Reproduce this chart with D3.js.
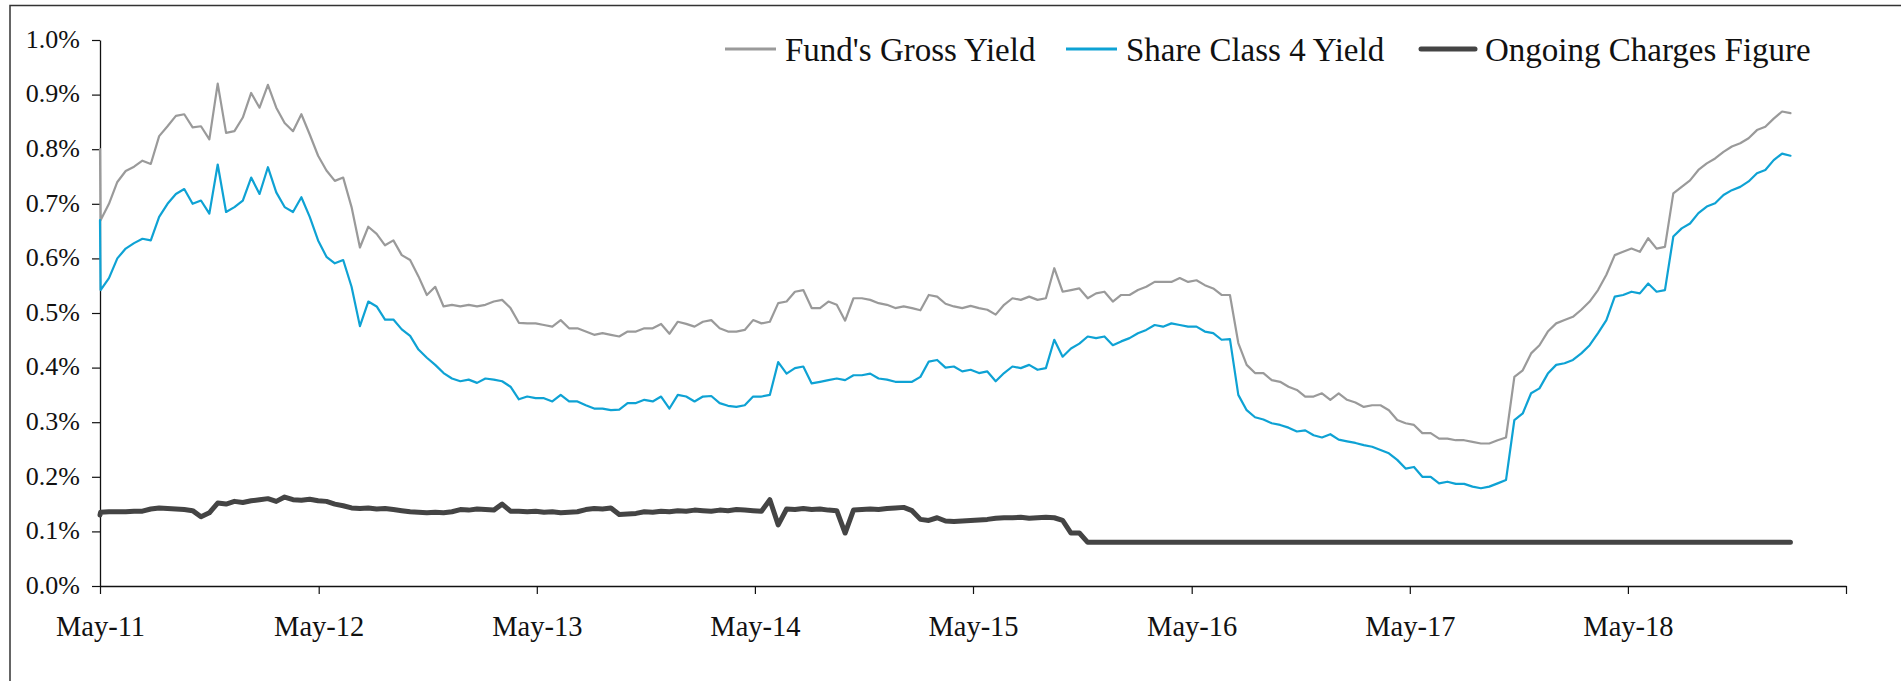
<!DOCTYPE html>
<html>
<head>
<meta charset="utf-8">
<script src="https://cdn.jsdelivr.net/npm/d3@7"></script>
<style>
body{margin:0;background:#fff}
svg text{font-family:"Liberation Serif","Times New Roman",serif;fill:#111}
</style>
</head>
<body>
<div id="chart"></div>
<script>
const first_date = "2011-05-01"
const series_start = "2011-05-02"
const step_days = 14

const gross_yield = [
  0.80,
  0.67,0.70,0.74,0.76,0.768,0.779,0.773,0.824,0.842,0.861,
  0.864,0.84,0.842,0.818,0.92,0.83,0.833,0.858,0.903,0.876,
  0.918,0.876,0.848,0.833,0.864,0.827,0.788,0.761,0.742,0.748,
  0.694,0.62,0.658,0.645,0.624,0.633,0.606,0.597,0.567,0.533,
  0.548,0.512,0.515,0.512,0.515,0.512,0.515,0.521,0.524,0.509,
  0.482,0.481,0.481,0.478,0.475,0.487,0.472,0.472,0.466,0.460,
  0.463,0.460,0.457,0.466,0.466,0.472,0.472,0.480,0.462,0.484,
  0.480,0.475,0.484,0.487,0.472,0.466,0.466,0.469,0.487,0.481,
  0.484,0.518,0.521,0.539,0.542,0.509,0.509,0.521,0.515,0.486,
  0.527,0.527,0.524,0.518,0.515,0.509,0.512,0.509,0.505,0.533,
  0.530,0.517,0.512,0.509,0.513,0.509,0.506,0.497,0.515,0.527,
  0.524,0.530,0.524,0.527,0.582,0.539,0.542,0.545,0.527,0.536,
  0.539,0.521,0.533,0.533,0.542,0.548,0.557,0.557,0.557,0.564,
  0.557,0.560,0.551,0.545,0.533,0.533,0.445,0.405,0.39,0.39,
  0.377,0.374,0.365,0.359,0.347,0.347,0.353,0.341,0.353,0.341,
  0.336,0.328,0.331,0.331,0.322,0.304,0.298,0.295,0.28,0.28,
  0.27,0.27,0.267,0.267,0.264,0.261,0.261,0.267,0.272,0.383,
  0.395,0.426,0.441,0.466,0.481,0.487,0.493,0.506,0.521,0.542,
  0.570,0.606,0.612,0.618,0.612,0.637,0.618,0.621,0.719,0.731,
  0.743,0.762,0.774,0.783,0.795,0.805,0.811,0.82,0.835,0.841,
  0.856,0.869,0.866
]

const class4_yield = [
  0.67,
  0.542,0.564,0.60,0.618,0.628,0.636,0.633,0.676,0.70,0.718,
  0.727,0.70,0.706,0.682,0.772,0.685,0.694,0.706,0.748,0.718,
  0.767,0.721,0.694,0.685,0.712,0.676,0.633,0.603,0.591,0.597,
  0.548,0.476,0.521,0.512,0.488,0.488,0.47,0.458,0.433,0.418,
  0.405,0.39,0.38,0.375,0.378,0.372,0.38,0.378,0.375,0.365,
  0.342,0.347,0.344,0.344,0.338,0.350,0.338,0.338,0.331,0.325,
  0.325,0.322,0.323,0.335,0.335,0.341,0.338,0.347,0.325,0.350,
  0.347,0.338,0.347,0.348,0.335,0.330,0.328,0.331,0.347,0.347,
  0.350,0.41,0.389,0.399,0.402,0.371,0.374,0.377,0.380,0.377,
  0.386,0.386,0.389,0.380,0.378,0.374,0.374,0.374,0.383,0.411,
  0.414,0.40,0.402,0.393,0.396,0.39,0.393,0.375,0.39,0.402,
  0.399,0.405,0.396,0.399,0.451,0.42,0.435,0.444,0.457,0.454,
  0.457,0.441,0.448,0.454,0.463,0.469,0.478,0.475,0.481,0.478,
  0.475,0.475,0.466,0.463,0.451,0.452,0.35,0.322,0.309,0.305,
  0.298,0.295,0.29,0.283,0.285,0.276,0.272,0.278,0.268,0.265,
  0.262,0.258,0.255,0.249,0.243,0.231,0.215,0.218,0.2,0.2,
  0.188,0.191,0.187,0.187,0.182,0.179,0.182,0.188,0.194,0.304,
  0.316,0.353,0.362,0.389,0.405,0.408,0.414,0.426,0.441,0.463,
  0.487,0.530,0.533,0.539,0.536,0.554,0.539,0.542,0.64,0.655,
  0.664,0.683,0.695,0.701,0.716,0.725,0.731,0.741,0.756,0.762,
  0.780,0.792,0.788
]

const ongoing_charges = [
  0.13,
  0.135,0.136,0.136,0.136,0.137,0.137,0.141,0.143,0.142,0.141,
  0.140,0.138,0.127,0.134,0.152,0.150,0.155,0.153,0.156,0.158,
  0.16,0.155,0.163,0.158,0.157,0.159,0.156,0.155,0.15,0.147,
  0.143,0.142,0.143,0.141,0.142,0.14,0.138,0.136,0.135,0.134,
  0.135,0.134,0.136,0.14,0.139,0.141,0.14,0.139,0.15,0.137,
  0.137,0.136,0.137,0.135,0.136,0.134,0.135,0.136,0.14,0.142,
  0.141,0.143,0.131,0.132,0.133,0.136,0.135,0.137,0.136,0.138,
  0.137,0.139,0.138,0.137,0.139,0.138,0.14,0.139,0.138,0.137,
  0.158,0.112,0.141,0.14,0.142,0.14,0.141,0.139,0.138,0.097,
  0.139,0.14,0.141,0.14,0.142,0.143,0.144,0.138,0.122,0.12,
  0.125,0.119,0.118,0.119,0.12,0.121,0.122,0.124,0.125,0.125,
  0.126,0.124,0.125,0.126,0.125,0.12,0.097,0.097,0.08,0.08,
  0.08,0.08,0.08,0.08,0.08,0.08,0.08,0.08,0.08,0.08,
  0.08,0.08,0.08,0.08,0.08,0.08,0.08,0.08,0.08,0.08,
  0.08,0.08,0.08,0.08,0.08,0.08,0.08,0.08,0.08,0.08,
  0.08,0.08,0.08,0.08,0.08,0.08,0.08,0.08,0.08,0.08,
  0.08,0.08,0.08,0.08,0.08,0.08,0.08,0.08,0.08,0.08,
  0.08,0.08,0.08,0.08,0.08,0.08,0.08,0.08,0.08,0.08,
  0.08,0.08,0.08,0.08,0.08,0.08,0.08,0.08,0.08,0.08,
  0.08,0.08,0.08,0.08,0.08,0.08,0.08,0.08,0.08,0.08,
  0.08,0.08,0.08
]

const y_ticks = [0,0.1,0.2,0.3,0.4,0.5,0.6,0.7,0.8,0.9,1.0]
const x_tick_years = [2011,2012,2013,2014,2015,2016,2017,2018,2019]
const legend_labels = ["Fund's Gross Yield","Share Class 4 Yield","Ongoing Charges Figure"]


class YieldChartD3{

    constructor(dom_selector,params){
        this.params = params
        this.svg = d3.select(dom_selector).append("svg")
            .attr("width",params.width)
            .attr("height",params.height)
        this.colormap = {
            gross:"#9a9a9a",
            share:"#0ea2d4",
            ocf:"#444444",
            axis:"#111111"
        }
        this.init_model()
        this.drawFrame()
        this.drawAxes()
        this.drawLines()
        this.drawLegend()
    }

    init_model(){
        const parse = d3.timeParse("%Y-%m-%d")
        const start = parse(series_start)
        this.dates = [parse(first_date)].concat(
            gross_yield.slice(1).map((_,i)=>d3.timeDay.offset(start,i*step_days)))
        this.series = [
            {name:legend_labels[0], values:gross_yield, color:this.colormap.gross, width:2.2},
            {name:legend_labels[1], values:class4_yield, color:this.colormap.share, width:2.2},
            {name:legend_labels[2], values:ongoing_charges, color:this.colormap.ocf, width:5}
        ]
        const p = this.params
        this.x = d3.scaleTime()
            .domain([new Date(x_tick_years[0],4,1),new Date(x_tick_years[x_tick_years.length-1],4,1)])
            .range([p.left,p.right])
        this.y = d3.scaleLinear().domain([0,1]).range([p.bottom,p.top])
    }

    drawFrame(){
        this.svg.append("path")
            .attr("d",`M10,${this.params.height} V5.5 H${this.params.width}`)
            .attr("fill","none")
            .attr("stroke","#333")
            .attr("stroke-width",1.5)
    }

    drawAxes(){
        const p = this.params
        const fmt = d3.timeFormat("%b-%y")
        const last = x_tick_years[x_tick_years.length-1]
        const x_axis = d3.axisBottom(this.x)
            .tickValues(x_tick_years.map(yr=>new Date(yr,4,1)))
            .tickFormat(d=>d.getFullYear()==last ? "" : fmt(d))
            .tickSize(8).tickSizeOuter(0).tickPadding(22)
        const y_axis = d3.axisLeft(this.y)
            .tickValues(y_ticks)
            .tickFormat(d=>d3.format(".1f")(d)+"%")
            .tickSize(8).tickSizeOuter(0).tickPadding(12)

        const gx = this.svg.append("g").attr("transform",`translate(0,${p.bottom})`).call(x_axis)
        const gy = this.svg.append("g").attr("transform",`translate(${p.left},0)`).call(y_axis)
        for (const g of [gx,gy]){
            g.attr("font-family",null).attr("font-size",null)
            g.select(".domain").attr("stroke",this.colormap.axis).attr("stroke-width",1.3)
            g.selectAll(".tick line").attr("stroke",this.colormap.axis).attr("stroke-width",1.2)
            g.selectAll(".tick text").attr("fill","#111").style("font-size","26px")
        }
        gx.selectAll(".tick text").style("font-size","28.5px")
        gy.selectAll(".tick text").attr("dy","0.28em")
    }

    drawLines(){
        const line = d3.line()
            .x((d,i)=>this.x(this.dates[i]))
            .y(d=>this.y(d))
        this.svg.append("g").selectAll("path")
            .data(this.series)
            .join("path")
            .attr("fill","none")
            .attr("stroke",d=>d.color)
            .attr("stroke-width",d=>d.width)
            .attr("stroke-linejoin","round")
            .attr("stroke-linecap","round")
            .attr("d",d=>line(d.values))
    }

    drawLegend(){
        const starts = [725,1066,1418]
        const items = this.svg.append("g").selectAll("g")
            .data(this.series)
            .join("g")
            .attr("transform",(d,i)=>`translate(${starts[i]},49)`)
        items.append("line")
            .attr("x1",(d,i)=>i==2?3:0).attr("x2",(d,i)=>i==2?57:51)
            .attr("stroke",d=>d.color)
            .attr("stroke-width",d=>d.width==5?5:3)
            .attr("stroke-linecap",d=>d.width==5?"round":"butt")
        items.append("text")
            .attr("x",(d,i)=>i==2?67:60)
            .attr("y",12)
            .style("font-size","33px")
            .text(d=>d.name)
    }
}

new YieldChartD3("#chart",{width:1901,height:681,left:100,right:1846,top:40,bottom:586})
</script>
</body>
</html>
